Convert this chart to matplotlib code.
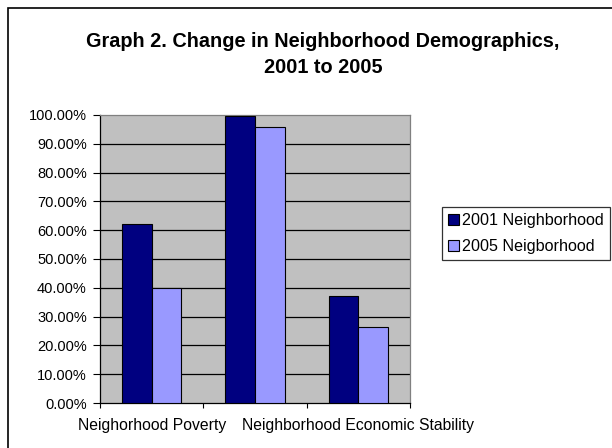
import numpy as np
import matplotlib
matplotlib.use("Agg")
import matplotlib.pyplot as plt
from matplotlib.patches import Rectangle

plt.rcParams['font.family'] = ['Liberation Sans', 'DejaVu Sans']

categories = ["Neighorhood Poverty", "", "Neighborhood Economic Stability"]
series_names = ["2001 Neighborhood", "2005 Neigborhood"]
vals_2001 = [0.62, 0.995, 0.37]
vals_2005 = [0.40, 0.96, 0.265]
yticks = [0.0, 0.1, 0.2, 0.3, 0.4, 0.5, 0.6, 0.7, 0.8, 0.9, 1.0]

fig = plt.figure(figsize=(6.12, 4.48), dpi=100)

# outer chart frame (cut off at right / bottom like the source)
fig.patches.append(Rectangle((8/612, -0.01), 1.0, 1 - 8/448 + 0.01,
                             transform=fig.transFigure, fill=False,
                             edgecolor="black", linewidth=1.2))

fig.text(323/612, 1 - 47/448, "Graph 2. Change in Neighborhood Demographics,",
         ha="center", va="baseline", fontsize=14.3, fontweight="bold")
fig.text(323/612, 1 - 73/448, "2001 to 2005",
         ha="center", va="baseline", fontsize=14.3, fontweight="bold")

ax = fig.add_axes([100/612, 45/448, 310/612, 288/448])
ax.set_facecolor("#C0C0C0")

x = np.arange(len(categories))
w = 1 / 3.5
b1 = ax.bar(x - w/2, vals_2001, w, color="#000080", edgecolor="black",
            linewidth=0.8, label=series_names[0], zorder=3)
b2 = ax.bar(x + w/2, vals_2005, w, color="#9999FF", edgecolor="black",
            linewidth=0.8, label=series_names[1], zorder=3)

ax.set_xlim(-0.5, len(categories) - 0.5)
ax.set_ylim(0, 1.0)
ax.set_yticks(yticks)
ax.set_yticklabels(["%.2f%%" % (v * 100) for v in yticks])
for v in yticks[1:-1]:
    ax.axhline(v, color="black", linewidth=0.9, zorder=1)

ax.set_xticks(np.arange(len(categories) + 1) - 0.5)
ax.set_xticklabels([])
ax.set_xticks(x, minor=True)
ax.set_xticklabels(categories, minor=True)
ax.tick_params(axis="x", which="minor", length=0, pad=11, labelsize=11.3)
ax.tick_params(axis="x", which="major", length=3.5, width=0.8, direction="out")
ax.tick_params(axis="y", length=5, width=0.8, direction="out", pad=4.5, labelsize=10.5)

ax.spines["top"].set_color("#808080")
ax.spines["right"].set_color("#808080")
for s in ax.spines.values():
    s.set_linewidth(0.9)

leg = fig.legend(handles=[b1, b2], labels=series_names, loc="upper left",
                 bbox_to_anchor=(442/612, 1 - 207/448), fontsize=11.6,
                 frameon=True, fancybox=False, edgecolor="black",
                 handlelength=0.65, handleheight=0.65, handletextpad=0.2,
                 borderpad=0.4, labelspacing=0.65, borderaxespad=0)
leg.get_frame().set_linewidth(0.9)

fig.savefig("out.png", dpi=100)
